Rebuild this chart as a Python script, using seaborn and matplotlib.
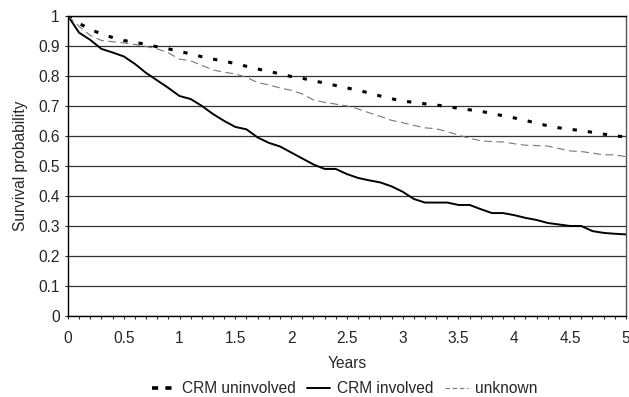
import numpy as np
import pandas as pd
import matplotlib
matplotlib.use("Agg")
import matplotlib.pyplot as plt
from matplotlib.lines import Line2D
import seaborn as sns
from matplotlib.ticker import MultipleLocator, FuncFormatter

years = [round(0.1 * i, 1) for i in range(51)]

crm_uninvolved = [1.0, 0.975, 0.955, 0.94, 0.928, 0.918, 0.912, 0.905, 0.897, 0.89,
                  0.882, 0.873, 0.864, 0.856, 0.849, 0.841, 0.832, 0.823, 0.815, 0.807,
                  0.798, 0.792, 0.784, 0.776, 0.768, 0.760, 0.752, 0.743, 0.733, 0.724,
                  0.716, 0.712, 0.707, 0.703, 0.698, 0.692, 0.687, 0.682, 0.675, 0.667,
                  0.66, 0.652, 0.642, 0.634, 0.627, 0.622, 0.618, 0.612, 0.606, 0.601, 0.596]

crm_involved = [1.0, 0.944, 0.92, 0.89, 0.878, 0.865, 0.84, 0.81, 0.785, 0.76,
                0.733, 0.723, 0.70, 0.673, 0.65, 0.63, 0.622, 0.595, 0.577, 0.565,
                0.545, 0.525, 0.505, 0.49, 0.49, 0.473, 0.46, 0.452, 0.445, 0.432,
                0.414, 0.39, 0.378, 0.378, 0.378, 0.37, 0.37, 0.356, 0.343, 0.343,
                0.336, 0.327, 0.32, 0.31, 0.305, 0.30, 0.30, 0.283, 0.277, 0.274, 0.272]

unknown = [1.0, 0.965, 0.935, 0.918, 0.914, 0.91, 0.905, 0.898, 0.89, 0.877,
           0.856, 0.85, 0.835, 0.82, 0.812, 0.807, 0.795, 0.778, 0.77, 0.76,
           0.752, 0.74, 0.72, 0.712, 0.706, 0.70, 0.69, 0.677, 0.665, 0.652,
           0.644, 0.635, 0.627, 0.624, 0.614, 0.603, 0.592, 0.584, 0.581, 0.58,
           0.574, 0.569, 0.568, 0.566, 0.558, 0.55, 0.548, 0.543, 0.537, 0.537, 0.531]

series_names = ["CRM uninvolved", "CRM involved", "unknown"]

sns.set_style("white")
plt.rcParams['font.family'] = ['Liberation Sans', 'DejaVu Sans']
FS = 11.2

fig = plt.figure(figsize=(6.29, 3.97), dpi=100)
ax = fig.add_axes([0.108, 0.204, 0.887, 0.756])

styles = {
    "CRM uninvolved": dict(color="black", linewidth=2.2, linestyle=(0, (1.4, 3.6))),
    "CRM involved": dict(color="black", linewidth=1.4, linestyle="-"),
    "unknown": dict(color="#777777", linewidth=0.8, linestyle=(0, (7, 4))),
}
legend_styles = {
    "CRM uninvolved": dict(color="black", linewidth=2.6, linestyle=(0, (1.7, 2.0))),
    "CRM involved": dict(color="black", linewidth=1.4, linestyle="-"),
    "unknown": dict(color="#777777", linewidth=0.8, linestyle=(0, (4, 2.5))),
}
data = {"CRM uninvolved": crm_uninvolved, "CRM involved": crm_involved, "unknown": unknown}

for name in series_names:
    sns.lineplot(x=years, y=data[name], ax=ax, **styles[name])

ax.set_xlim(0, 5)
ax.set_ylim(0, 1)
ax.yaxis.set_major_locator(MultipleLocator(0.1))
ax.xaxis.set_major_locator(MultipleLocator(0.5))
ax.xaxis.set_minor_locator(MultipleLocator(0.1))
fmt = FuncFormatter(lambda v, p: ("%g" % round(v, 2)))
ax.xaxis.set_major_formatter(fmt)
ax.yaxis.set_major_formatter(fmt)

ax.grid(axis="y", color="#333333", linewidth=0.9)
ax.set_axisbelow(True)
for s in ["left", "bottom", "right", "top"]:
    ax.spines[s].set_visible(True)
    ax.spines[s].set_color("black")
    ax.spines[s].set_linewidth(1.0)
ax.spines["right"].set_color("#555555")

ax.tick_params(axis="x", which="both", direction="out", bottom=True, length=2.5, width=0.8,
               labelsize=FS, pad=8)
ax.tick_params(axis="y", which="both", left=True, length=2, width=0.8, labelsize=FS, pad=4)

ax.set_xlabel("Years", fontsize=FS, labelpad=7.5)
ax.set_ylabel("Survival probability", fontsize=FS, labelpad=7)

handles = [Line2D([0], [0], **legend_styles[n]) for n in series_names]
fig.legend(handles, series_names, loc="center", bbox_to_anchor=(0.548, 0.021), ncol=3,
           frameon=False, fontsize=FS, handlelength=1.5, columnspacing=0.7,
           handletextpad=0.45, borderpad=0.1)

fig.savefig("out.png", dpi=100)
